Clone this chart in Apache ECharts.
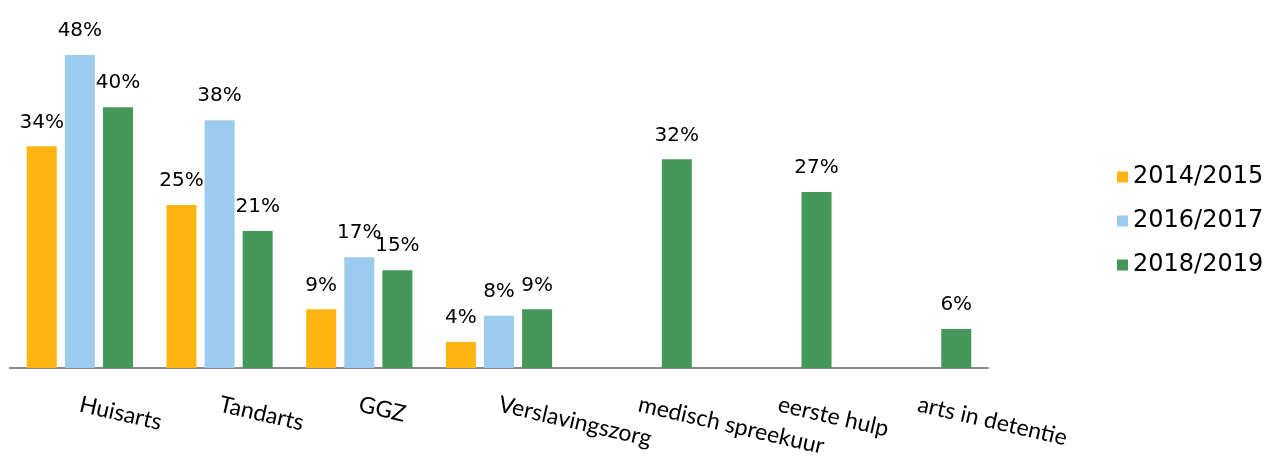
<!DOCTYPE html>
<html>
<head>
<meta charset="utf-8">
<script src="https://cdn.jsdelivr.net/npm/echarts@6/dist/echarts.min.js"></script>
<style>
  html, body { margin: 0; padding: 0; background: #fff; }
  #chart { width: 1267px; height: 461px; }
</style>
</head>
<body>
<div id="chart"></div>
<script>
// data
var categories = ['Huisarts', 'Tandarts', 'GGZ', 'Verslavingszorg', 'medisch spreekuur', 'eerste hulp', 'arts in detentie'];
var seriesNames = ['2014/2015', '2016/2017', '2018/2019'];
var data2014 = [34, 25, 9, 4, null, null, null];
var data2016 = [48, 38, 17, 8, null, null, null];
var data2018 = [40, 21, 15, 9, 32, 27, 6];
var colors = ['#FFB511', '#9CCBF0', '#46975A'];

var myChart = echarts.init(document.getElementById('chart'));

function makeSeries(name, values, color) {
    return {
        name: name,
        type: 'bar',
        data: values,
        barWidth: 30,
        barGap: '27%',
        itemStyle: { color: color },
        label: {
            show: true,
            position: 'top',
            distance: 14,
            formatter: '{c}%',
            color: '#000',
            fontFamily: 'DejaVu Sans',
            fontSize: 20
        }
    };
}

myChart.setOption({
    animation: false,
    legend: {
        orient: 'vertical',
        left: 1112,
        top: 160,
        itemWidth: 11,
        itemHeight: 11,
        itemGap: 20,
        icon: 'rect',
        textStyle: { fontFamily: 'DejaVu Sans', fontSize: 24, color: '#000' },
        data: seriesNames
    },
    grid: {
        left: 10,
        right: 279,
        top: 42,
        bottom: 93
    },
    xAxis: {
        type: 'category',
        data: categories,
        axisLine: { lineStyle: { color: '#898989', width: 2 } },
        axisTick: { show: false },
        axisLabel: {
            interval: 0,
            rotate: -13,
            margin: 36,
            color: '#000',
            fontFamily: 'Lato',
            fontSize: 23
        }
    },
    yAxis: {
        type: 'value',
        min: 0,
        max: 50,
        show: false,
        splitLine: { show: false }
    },
    series: [
        makeSeries(seriesNames[0], data2014, colors[0]),
        makeSeries(seriesNames[1], data2016, colors[1]),
        makeSeries(seriesNames[2], data2018, colors[2])
    ]
});
</script>
</body>
</html>
